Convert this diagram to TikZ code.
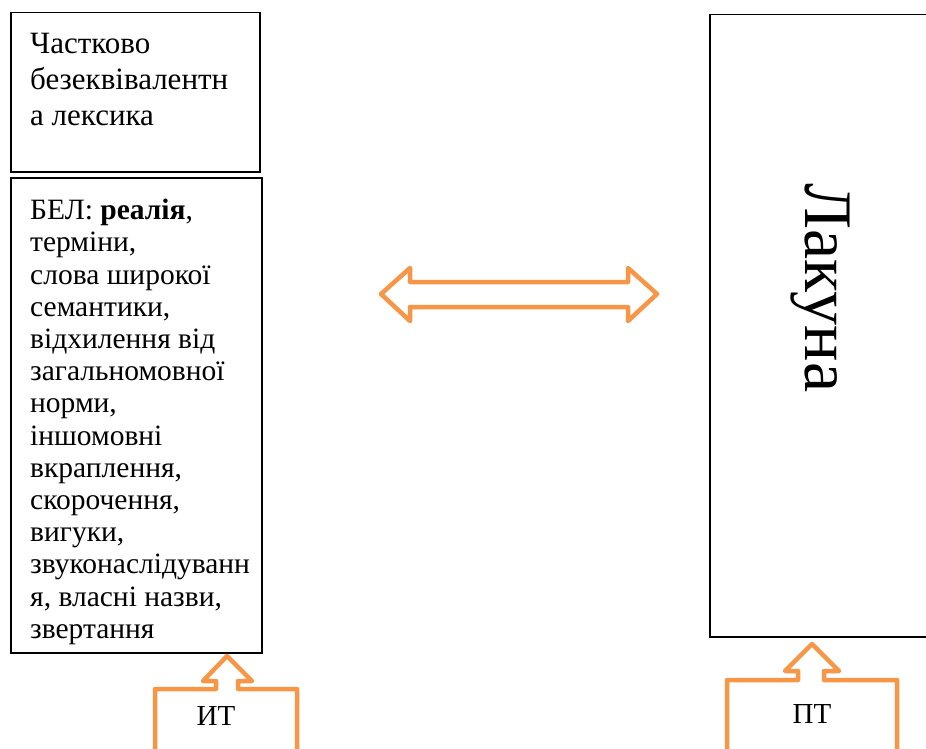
\documentclass[tikz,border=0pt]{standalone}
\usepackage{fontspec}
\setmainfont{Liberation Serif}
\definecolor{accent}{HTML}{F79646}
\begin{document}
\begin{tikzpicture}[x=1pt,y=-1pt,
  box/.style={draw=black,line width=1.5pt,anchor=north west,inner sep=0pt},
  blurb/.style={anchor=north west,inner sep=0pt,align=left},
  outline/.style={draw=accent,line width=4.5pt,line join=round,line cap=round},
  tag/.style={inner sep=0pt,font=\fontsize{29}{32}\selectfont}]
\useasboundingbox (0,0) rectangle (926,749);

% left column boxes
\node[box,minimum width=249pt,minimum height=159pt] (top) at (10,12) {};
\node[box,minimum width=251pt,minimum height=475pt] (bel) at (10,177) {};
% right column box, running past the edge
\node[box,minimum width=240pt,minimum height=622pt] (gap) at (709,14) {};

\node[blurb,font=\fontsize{31}{36}\selectfont] (toptext) at (30,33)
  {Частково\\безеквівалентн\\а лексика};
\node[blurb,font=\fontsize{29.5}{32.2}\selectfont] (beltext) at (30,199)
  {БЕЛ: \textbf{реалія}, \\терміни,\\слова широкої\\семантики,\\відхилення від\\загальномовної\\норми,\\іншомовні\\вкраплення,\\скорочення,\\вигуки,\\звуконаслідуванн\\я, власні назви,\\звертання};

\node[rotate=-90,inner sep=0pt,font=\fontsize{68}{76}\selectfont] (lac) at (820,288) {Лакуна};

% two-headed block arrow between the columns
\coordinate (la) at (381,294);
\coordinate (ra) at (657,294);
\draw[outline] (la) -- (410,268) -- (410,282) -- (628,282) -- (628,268) -- (ra)
  -- (628,321) -- (628,307) -- (410,307) -- (410,321) -- cycle;

% callout boxes with upward arrows
\coordinate (itTip) at (227,656);
\draw[outline] (155,760) -- (155,689) -- (216,689) -- (216,681) -- (203,681)
  -- (itTip) -- (252,681) -- (238,681) -- (238,689) -- (297,689) -- (297,760);
\node[tag] (it) at (216,716) {ИТ};

\coordinate (ptTip) at (812,644);
\draw[outline] (727,760) -- (727,680) -- (798,680) -- (798,671) -- (785,671)
  -- (ptTip) -- (839,671) -- (824,671) -- (824,680) -- (897,680) -- (897,760);
\node[tag] (pt) at (812,714) {ПТ};
\end{tikzpicture}
\end{document}
